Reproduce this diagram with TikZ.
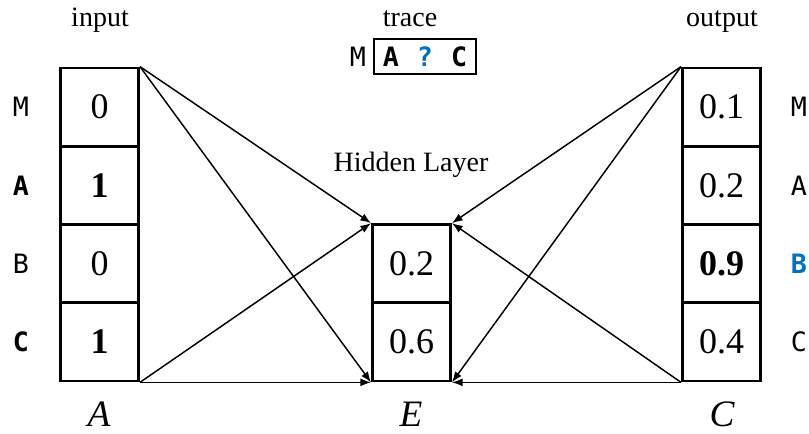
\documentclass[tikz,border=0pt]{standalone}
\usepackage{fontspec}
\setmainfont{Liberation Serif}
\setmonofont{DejaVu Sans Mono}
\usetikzlibrary{arrows.meta}

\definecolor{tblue}{RGB}{0,114,189}

\begin{document}
\begin{tikzpicture}[
  x=0.75pt,
  y=-0.75pt,
  edge/.style={draw=black, line width=1.1pt, -{Latex[length=8pt,width=6pt]}},
  cell/.style={
    rectangle,
    draw=black,
    line width=2pt,
    minimum width=58.7pt,
    minimum height=58.7pt,
    inner sep=0pt,
    font=\fontsize{27}{30}\selectfont
  },
  tag/.style={font=\ttfamily\fontsize{20}{22}\selectfont},
  caption/.style={anchor=base, font=\fontsize{21}{24}\selectfont},
  layer/.style={anchor=base, font=\itshape\fontsize{28}{30}\selectfont}
]

% Coordinates are in pixels of the 809x434 target (y grows downward).
\useasboundingbox (0,0) rectangle (809,434);

% input column A
\node[cell] (inM) at ( 99.5,107.1) {0};
\node[cell] (inA) at ( 99.5,185.4) {\textbf{1}};
\node[cell] (inB) at ( 99.5,263.6) {0};
\node[cell] (inC) at ( 99.5,341.9) {\textbf{1}};

% hidden layer E
\node[cell] (hid1) at (411.5,263.6) {0.2};
\node[cell] (hid2) at (411.5,341.9) {0.6};

% output column C
\node[cell] (outM) at (721.5,107.1) {0.1};
\node[cell] (outA) at (721.5,185.4) {0.2};
\node[cell] (outB) at (721.5,263.6) {\textbf{0.9}};
\node[cell] (outC) at (721.5,341.9) {0.4};

% row tags
\node[tag] (tinM) at (21,107.1) {M};
\node[tag] (tinA) at (21,185.4) {\textbf{A}};
\node[tag] (tinB) at (21,263.6) {B};
\node[tag] (tinC) at (21,341.9) {\textbf{C}};
\node[tag] (toutM) at (799,107.1) {M};
\node[tag] (toutA) at (799,185.4) {A};
\node[tag] (toutB) at (799,263.6) {\textcolor{tblue}{\textbf{B}}};
\node[tag] (toutC) at (799,341.9) {C};

% captions
\node[caption] (cin)    at (100,27) {input};
\node[caption] (ctrace) at (410,27) {trace};
\node[caption] (cout)   at (722,27) {output};
\node[caption] (chid)   at (411,172) {Hidden Layer};

\node[layer] (lA) at (99,426) {A};
\node[layer] (lE) at (411,426) {E};
\node[layer] (lC) at (722,426) {C};

% trace box
\node[tag] (trM) at (358,56.5) {M};
\node[tag, draw=black, line width=1.6pt, minimum width=77pt, minimum height=26pt,
      inner sep=0pt] (trbox) at (425,56.5)
  {\textbf{A}\hspace{13.5pt}\textcolor{tblue}{\textbf{?}}\hspace{13.5pt}\textbf{C}};

% connections
\draw[edge] (inM.north east) -- (hid1.north west);
\draw[edge] (inM.north east) -- (hid2.south west);
\draw[edge] (inC.south east) -- (hid1.north west);
\draw[edge] (inC.south east) -- (hid2.south west);
\draw[edge] (outM.north west) -- (hid1.north east);
\draw[edge] (outM.north west) -- (hid2.south east);
\draw[edge] (outC.south west) -- (hid1.north east);
\draw[edge] (outC.south west) -- (hid2.south east);

\end{tikzpicture}
\end{document}
